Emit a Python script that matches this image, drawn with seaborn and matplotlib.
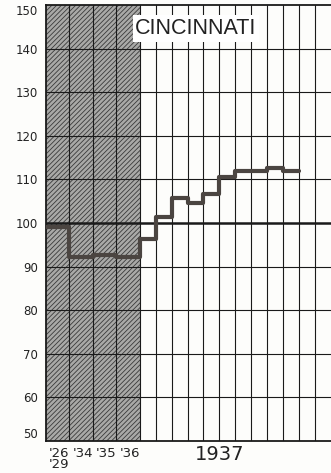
import numpy as np
import pandas as pd
import seaborn as sns
import matplotlib.pyplot as plt
from matplotlib import transforms

# index of business activity, Cincinnati
periods = ["'26-'29", "'34", "'35", "'36",
           "Jan", "Feb", "Mar", "Apr", "May", "Jun", "Jul", "Aug", "Sep", "Oct"]
values = [99.1, 92.1, 92.7, 92.1,
          96.3, 101.4, 105.7, 104.7, 106.6, 110.6, 111.9, 111.9, 112.5, 112.0]
year_labels = ["'26\n'29", "'34", "'35", "'36"]
y_ticks = [50, 60, 70, 80, 90, 100, 110, 120, 130, 140, 150]
title = "CINCINNATI"
month_label = "1937"

sns.set_style("white")
plt.rcParams['font.family'] = ['DejaVu Sans']
plt.rcParams['hatch.linewidth'] = 0.6

# column widths: yearly columns a bit wider than the monthly ones
year_w = 1.47
n_years = len(year_labels)
n_months = 12
widths = [year_w] * n_years + [1.0] * n_months
edges = np.concatenate([[0], np.cumsum(widths)])
shade_end = edges[n_years]

df = pd.DataFrame({
    "x": list(edges[:len(values) + 1]),
    "y": values + [values[-1]],
})

fig = plt.figure(figsize=(3.31, 4.73), dpi=100)
fig.patch.set_facecolor('#fdfdfb')
ax = fig.add_axes([46 / 331, 1 - 441 / 473, (331 - 46) / 331, (441 - 5) / 473])
ax.set_facecolor('#fdfdfb')

ax.axvspan(0, shade_end, facecolor='#a9a9a7', edgecolor='#3a3a3a',
           hatch='///////', linewidth=0, zorder=0)

for yv in y_ticks[1:-1]:
    ax.axhline(yv, color='#1a1a1a', lw=1.8 if yv == 100 else 0.8, zorder=1)
for xv in edges[1:-1]:
    ax.axvline(xv, color='#1a1a1a', lw=0.8, zorder=1)

sns.lineplot(data=df, x="x", y="y", drawstyle='steps-post', estimator=None,
             color='#4b4541', lw=3.0, ax=ax, zorder=3)

ax.set_xlim(0, edges[-1])
ax.set_ylim(50, 150)
ax.set_xlabel("")
ax.set_ylabel("")

ax.set_yticks(y_ticks)
ax.set_yticklabels([str(v) for v in y_ticks], fontsize=8.5, color='#222222')
ax.tick_params(axis='y', length=0, pad=6)
labels = ax.get_yticklabels()
labels[-1].set_va('top')
labels[0].set_va('bottom')

centers = (edges[:n_years] + edges[1:n_years + 1]) / 2
ax.set_xticks(centers + 0.1)
ax.set_xticklabels(year_labels, fontsize=9.5, color='#222222', linespacing=0.8)
ax.tick_params(axis='x', length=0, pad=4)

trans = transforms.blended_transform_factory(ax.transData, ax.transAxes)
ax.text(shade_end + 5, -0.032, month_label, transform=trans, ha='center', va='center',
        fontsize=14, color='#222222')

ax.text(shade_end + 3.53, 144.6, title, ha='center', va='center',
        fontsize=15.5, family='Liberation Sans', color='#222222', zorder=4,
        bbox=dict(boxstyle='square,pad=0.12', fc='white', ec='none'))

for side in ['left', 'bottom', 'top']:
    ax.spines[side].set_visible(True)
    ax.spines[side].set_color('#1a1a1a')
    ax.spines[side].set_linewidth(1.3)
ax.spines['right'].set_visible(False)

fig.savefig('out.png', dpi=100, facecolor=fig.get_facecolor())
